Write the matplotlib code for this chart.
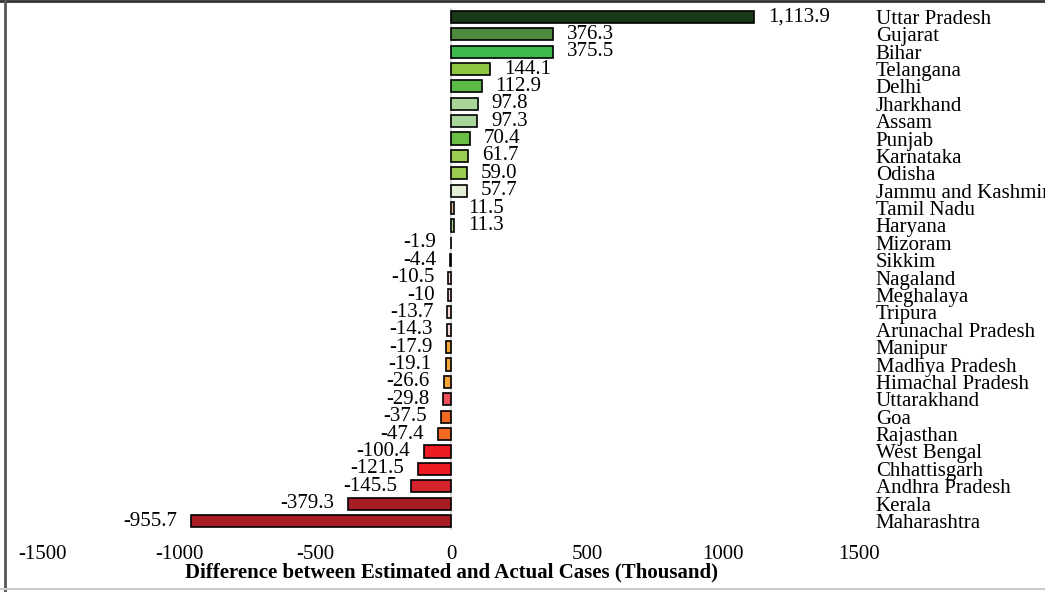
import matplotlib.pyplot as plt
from matplotlib.lines import Line2D

states = ['Uttar Pradesh', 'Gujarat', 'Bihar', 'Telangana', 'Delhi', 'Jharkhand',
          'Assam', 'Punjab', 'Karnataka', 'Odisha', 'Jammu and Kashmir', 'Tamil Nadu',
          'Haryana', 'Mizoram', 'Sikkim', 'Nagaland', 'Meghalaya', 'Tripura',
          'Arunachal Pradesh', 'Manipur', 'Madhya Pradesh', 'Himachal Pradesh',
          'Uttarakhand', 'Goa', 'Rajasthan', 'West Bengal', 'Chhattisgarh',
          'Andhra Pradesh', 'Kerala', 'Maharashtra']
diff = [1113.9, 376.3, 375.5, 144.1, 112.9, 97.8, 97.3, 70.4, 61.7, 59.0, 57.7, 11.5,
        11.3, -1.9, -4.4, -10.5, -10, -13.7, -14.3, -17.9, -19.1, -26.6, -29.8, -37.5,
        -47.4, -100.4, -121.5, -145.5, -379.3, -955.7]
diff_labels = ['1,113.9', '376.3', '375.5', '144.1', '112.9', '97.8', '97.3', '70.4',
               '61.7', '59.0', '57.7', '11.5', '11.3', '-1.9', '-4.4', '-10.5', '-10',
               '-13.7', '-14.3', '-17.9', '-19.1', '-26.6', '-29.8', '-37.5', '-47.4',
               '-100.4', '-121.5', '-145.5', '-379.3', '-955.7']
bar_colors = ['#183818', '#4e8a3e', '#3dba4e', '#8cc63e', '#5aba45', '#a9d79b',
              '#a9d79b', '#6abd45', '#9bcb50', '#9bcb50', '#e3f0d7', '#f5c59f',
              '#a6d785', '#e8e8e8', '#e8e8e8', '#f9d5d3', '#f9d5d3', '#f9d5d3',
              '#f9d5d3', '#f7a539', '#f7a539', '#f7a539', '#ef5059', '#f26a22',
              '#f26a22', '#ed1c24', '#ed1c24', '#d3232c', '#a81c24', '#a81c24']
xticks = [-1500, -1000, -500, 0, 500, 1000, 1500]

plt.rcParams['font.family'] = ['Liberation Serif', 'DejaVu Serif']

fig = plt.figure(figsize=(10.45, 5.92), dpi=100)
ax = fig.add_axes([0.0411, 0.1052, 0.781, 0.881])

pos = list(range(len(states)))[::-1]
ax.barh(pos, diff, height=0.7, color=bar_colors, edgecolor='black', linewidth=1.2, zorder=3)
ax.axvline(0, color='#d4d4d4', linewidth=1.2, zorder=2)

for p, v, lab in zip(pos, diff, diff_labels):
    off = 10 if v > 0 else -10
    ax.annotate(lab, (v, p), xytext=(off, 0), textcoords='offset points',
                ha='left' if v > 0 else 'right', va='center', fontsize=15)

ax.set_xlim(-1500, 1500)
ax.set_ylim(-0.5, len(states) - 0.5)
ax.set_xticks(xticks)
ax.set_xticklabels([str(t) for t in xticks], fontsize=15)
ax.set_yticks(pos)
ax.set_yticklabels(states, fontsize=15)
ax.yaxis.tick_right()
ax.tick_params(axis='both', length=0)
ax.tick_params(axis='x', pad=11)
ax.tick_params(axis='y', pad=12)
for s in ax.spines.values():
    s.set_visible(False)
ax.set_xlabel('Difference between Estimated and Actual Cases (Thousand)',
              fontsize=15, fontweight='bold', labelpad=-1)

# image frame
fig.add_artist(Line2D([0, 1], [0.9975, 0.9975], color='#333333', linewidth=2))
fig.add_artist(Line2D([0.0048, 0.0048], [0, 1], color='#555555', linewidth=2))
fig.add_artist(Line2D([0, 1], [0.005, 0.005], color='#cccccc', linewidth=1.5))

fig.savefig('out.png', dpi=100)
